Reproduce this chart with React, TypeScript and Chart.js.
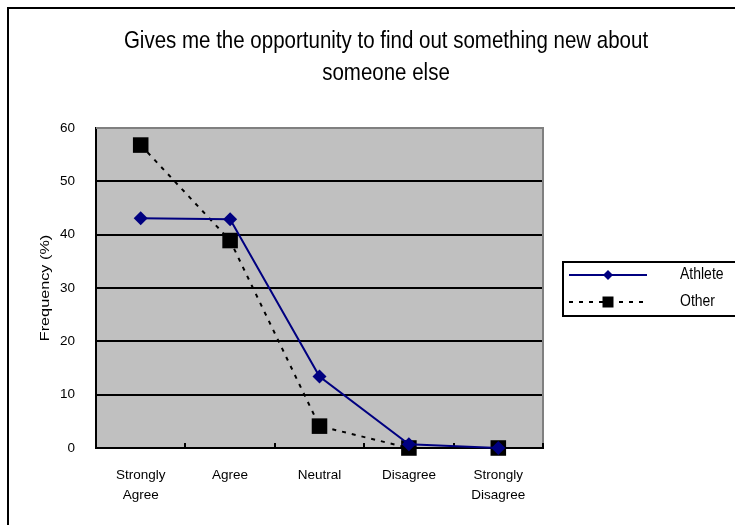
import { useEffect, useRef } from 'react';
import { Chart, registerables } from 'chart.js';

Chart.register(...registerables);

const categories: (string | string[])[] = [
  ['Strongly', 'Agree'],
  'Agree',
  'Neutral',
  'Disagree',
  ['Strongly', 'Disagree'],
];
const athleteValues = [43.1, 42.9, 13.4, 0.7, 0];
const otherValues = [56.8, 38.9, 4.1, 0, 0];
const yTickValues = [0, 10, 20, 30, 40, 50, 60];
const titleLines = ['Gives me the opportunity to find out something new about', 'someone else'];
const yAxisTitle = 'Frequency (%)';
const seriesNames = ['Athlete', 'Other'];

const FONT = '"Liberation Sans", Arial, Helvetica, sans-serif';
const PLOT_BG = '#C0C0C0';
const NAVY = '#000080';

// Draws the page frame, title, plot background and plot borders.
const decorPlugin = {
  id: 'decor',
  beforeDraw(chart: any) {
    const { ctx, chartArea: a } = chart;
    ctx.save();
    ctx.fillStyle = '#ffffff';
    ctx.fillRect(0, 0, chart.width, chart.height);
    ctx.strokeStyle = '#000';
    ctx.lineWidth = 2;
    ctx.strokeRect(8, 8, chart.width + 40, chart.height + 40);
    ctx.fillStyle = PLOT_BG;
    ctx.fillRect(a.left, a.top, a.right - a.left, a.bottom - a.top);

    // chart title, slightly tall letterforms
    ctx.fillStyle = '#000';
    ctx.font = `20.5px ${FONT}`;
    ctx.textAlign = 'center';
    ctx.textBaseline = 'middle';
    titleLines.forEach((t, i) => {
      ctx.save();
      ctx.translate(386, 41 + i * 32);
      ctx.scale(1, 1.15);
      ctx.fillText(t, 0, 0);
      ctx.restore();
    });

    // y-axis title, rotated
    ctx.save();
    ctx.translate(45, (a.top + a.bottom) / 2);
    ctx.rotate(-Math.PI / 2);
    ctx.scale(1.25, 1);
    ctx.font = `13px ${FONT}`;
    ctx.fillText(yAxisTitle, 0, 0);
    ctx.restore();
    ctx.restore();
  },
  beforeDatasetsDraw(chart: any) {
    const { ctx, chartArea: a } = chart;
    const x = chart.scales.x;
    ctx.save();
    // gray top and right border of the plot area
    ctx.strokeStyle = '#808080';
    ctx.lineWidth = 2;
    ctx.beginPath();
    ctx.moveTo(a.left, a.top);
    ctx.lineTo(a.right, a.top);
    ctx.lineTo(a.right, a.bottom);
    ctx.stroke();
    // short inward tick marks at category boundaries
    ctx.strokeStyle = '#000';
    const n = categories.length;
    const step = (a.right - a.left) / n;
    for (let i = 1; i <= n; i++) {
      const px = Math.round(x.getPixelForValue(i - 1) + step / 2);
      ctx.beginPath();
      ctx.moveTo(px, a.bottom);
      ctx.lineTo(px, a.bottom - 5);
      ctx.stroke();
    }
    ctx.restore();
  },
  afterDraw(chart: any) {
    const { ctx } = chart;
    ctx.save();
    ctx.strokeStyle = '#000';
    ctx.lineWidth = 2;
    ctx.strokeRect(563, 262, 200, 54);
    ctx.font = `14px ${FONT}`;
    ctx.textAlign = 'left';
    ctx.textBaseline = 'middle';
    chart.data.datasets.forEach((ds: any, i: number) => {
      const y = 275 + i * 27;
      ctx.strokeStyle = ds.borderColor;
      ctx.lineWidth = 2;
      ctx.setLineDash(ds.borderDash || []);
      ctx.beginPath();
      ctx.moveTo(569, y);
      ctx.lineTo(647, y);
      ctx.stroke();
      ctx.setLineDash([]);
      ctx.fillStyle = ds.backgroundColor;
      ctx.beginPath();
      if (ds.pointStyle === 'rectRot') {
        ctx.moveTo(608, y - 5);
        ctx.lineTo(613, y);
        ctx.lineTo(608, y + 5);
        ctx.lineTo(603, y);
        ctx.closePath();
      } else {
        ctx.rect(602.5, y - 5.5, 11, 11);
      }
      ctx.fill();
      ctx.fillStyle = '#000';
      ctx.save();
      ctx.translate(680, y);
      ctx.scale(1, 1.15);
      ctx.fillText(ds.label, 0, 0);
      ctx.restore();
    });
    ctx.restore();
  },
};

export default function App() {
  const canvasRef = useRef<HTMLCanvasElement | null>(null);

  useEffect(() => {
    if (!canvasRef.current) return;
    const chart = new Chart(canvasRef.current, {
      type: 'line',
      data: {
        labels: categories,
        datasets: [
          {
            label: seriesNames[0],
            data: athleteValues,
            borderColor: NAVY,
            backgroundColor: NAVY,
            borderWidth: 2,
            pointStyle: 'rectRot',
            pointRadius: 7,
            pointBorderWidth: 0,
            pointHoverRadius: 7,
            tension: 0,
            clip: false as any,
          },
          {
            label: seriesNames[1],
            data: otherValues,
            borderColor: '#000',
            backgroundColor: '#000',
            borderWidth: 2,
            borderDash: [4, 6],
            pointStyle: 'rect',
            pointRadius: 11,
            pointBorderWidth: 0,
            pointHoverRadius: 11,
            tension: 0,
            clip: false as any,
          },
        ],
      },
      options: {
        responsive: false,
        animation: false,
        layout: { padding: { left: 30, right: 192, top: 128, bottom: 17 } },
        plugins: {
          legend: { display: false },
          title: { display: false },
          tooltip: { enabled: false },
        },
        scales: {
          x: {
            offset: true,
            grid: { display: false, drawTicks: false },
            border: { display: true, color: '#000', width: 2 },
            ticks: {
              color: '#000',
              font: { family: FONT, size: 13.5, lineHeight: 1.5 },
              padding: 17,
              maxRotation: 0,
              autoSkip: false,
            },
            afterFit: (s: any) => {
              s.height = 60;
            },
          },
          y: {
            min: 0,
            max: 60,
            afterBuildTicks: (s: any) => {
              s.ticks = yTickValues.map((v) => ({ value: v }));
            },
            grid: { color: '#000', lineWidth: 2, drawTicks: false },
            border: { display: true, color: '#000', width: 2 },
            ticks: {
              color: '#000',
              font: { family: FONT, size: 13.5 },
              padding: 21,
            },
            title: { display: false },
            afterFit: (s: any) => {
              s.width = 66;
            },
          },
        },
      },
      plugins: [decorPlugin],
    });
    return () => chart.destroy();
  }, []);

  return (
    <div style={{ position: 'fixed', left: 0, top: 0, width: 735, height: 525 }}>
      <canvas ref={canvasRef} width={735} height={525} style={{ display: 'block' }} />
    </div>
  );
}
